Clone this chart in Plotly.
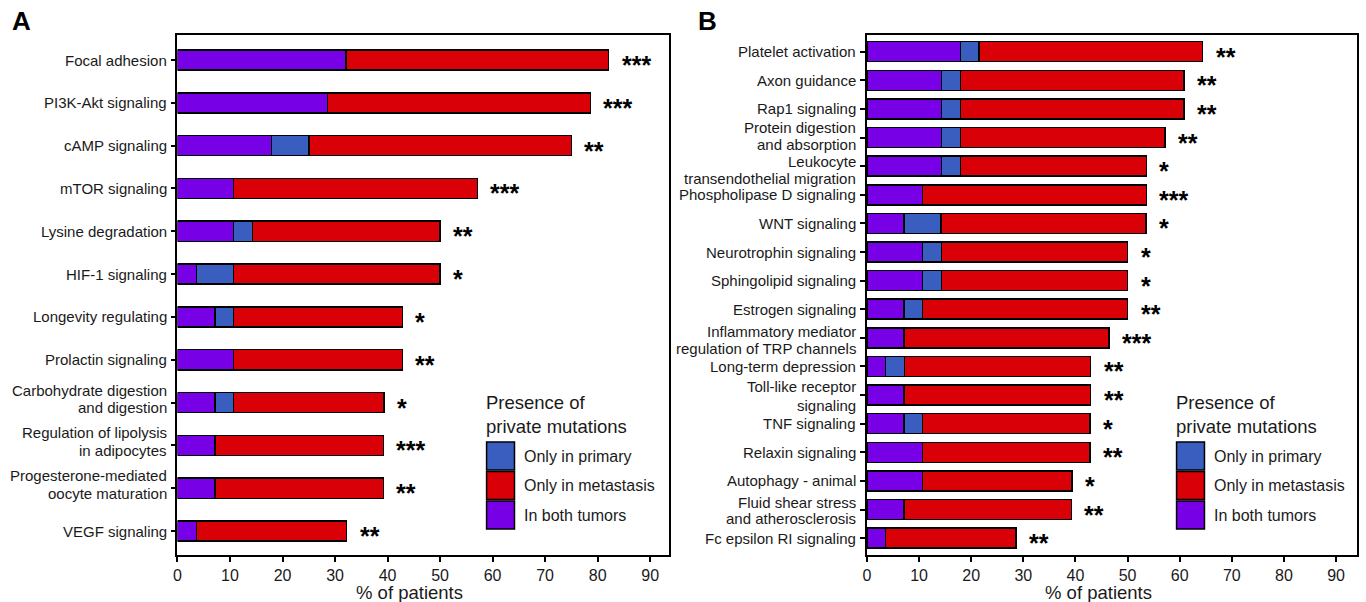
import plotly.graph_objects as go

# ---------------- Data ----------------
# Panel A (percent of patients)
cats_a = ["Focal adhesion", "PI3K-Akt signaling", "cAMP signaling", "mTOR signaling",
          "Lysine degradation", "HIF-1 signaling", "Longevity regulating", "Prolactin signaling",
          "Carbohydrate digestion<br>and digestion", "Regulation of lipolysis<br>in adipocytes",
          "Progesterone-mediated<br>oocyte maturation", "VEGF signaling"]
both_a = [32.1, 28.6, 17.9, 10.7, 10.7, 3.6, 7.1, 10.7, 7.1, 7.1, 7.1, 3.6]
primary_a = [0, 0, 7.1, 0, 3.6, 7.1, 3.6, 0, 3.6, 0, 0, 0]
meta_a = [50.0, 50.0, 50.0, 46.4, 35.7, 39.3, 32.1, 32.1, 28.6, 32.1, 32.1, 28.6]
sig_a = ["***", "***", "**", "***", "**", "*", "*", "**", "*", "***", "**", "**"]

# Panel B
cats_b = ["Platelet activation", "Axon guidance", "Rap1 signaling",
          "Protein digestion<br>and absorption", "Leukocyte<br>transendothelial migration",
          "Phospholipase D signaling", "WNT signaling", "Neurotrophin signaling",
          "Sphingolipid signaling", "Estrogen signaling",
          "Inflammatory mediator<br>regulation of TRP channels", "Long-term depression",
          "Toll-like receptor<br>signaling", "TNF signaling", "Relaxin signaling",
          "Autophagy - animal", "Fluid shear stress<br>and atherosclerosis",
          "Fc epsilon RI signaling"]
both_b = [17.9, 14.3, 14.3, 14.3, 14.3, 10.7, 7.1, 10.7, 10.7, 7.1, 7.1, 3.6, 7.1, 7.1, 10.7, 10.7, 7.1, 3.6]
primary_b = [3.6, 3.6, 3.6, 3.6, 3.6, 0, 7.1, 3.6, 3.6, 3.6, 0, 3.6, 0, 3.6, 0, 0, 0, 0]
meta_b = [42.9, 42.9, 42.9, 39.3, 35.7, 42.9, 39.3, 35.7, 35.7, 39.3, 39.3, 35.7, 35.8, 32.1, 32.1, 28.6, 32.1, 25.0]
sig_b = ["**", "**", "**", "**", "*", "***", "*", "*", "*", "**", "***", "**", "**", "*", "**", "*", "**", "**"]

x_ticks = [0, 10, 20, 30, 40, 50, 60, 70, 80, 90]
legend_labels = ["Only in primary", "Only in metastasis", "In both tumors"]
legend_title = "Presence of<br>private mutations"

# ---------------- Style ----------------
W, H = 1366, 602
C_BOTH = "#7800E6"
C_PRIM = "#3A5EC0"
C_META = "#D90008"
FONT = "Liberation Sans, Arial, Helvetica, sans-serif"
TXT = "#1a1a1a"

# vertical pixel offsets of the two lines of wrapped category labels
LINE_OFFSETS_A = (-12.5, 5.0)
LINE_OFFSETS_B = {
    "Protein digestion<br>and absorption": (-10.4, 6.6),
    "Leukocyte<br>transendothelial migration": (-5.0, 12.0),
    "Inflammatory mediator<br>regulation of TRP channels": (-6.6, 11.0),
    "Toll-like receptor<br>signaling": (-8.4, 10.0),
    "Fluid shear stress<br>and atherosclerosis": (-7.0, 9.0),
}


def px(x):
    return x / W


def py(y):
    return 1 - y / H


def nz(v):
    return [val if val else None for val in v]


fig = go.Figure()

panels = [
    dict(cats=cats_a, both=both_a, prim=primary_a, meta=meta_a, sig=sig_a,
         xa="x", ya="y", width=0.47, left=174, offs=lambda c: LINE_OFFSETS_A),
    dict(cats=cats_b, both=both_b, prim=primary_b, meta=meta_b, sig=sig_b,
         xa="x2", ya="y2", width=0.70, left=865.5,
         offs=lambda c: LINE_OFFSETS_B.get(c, (-7.5, 10.0))),
]

for p in panels:
    for vals, col, name in [(p["both"], C_BOTH, legend_labels[2]),
                            (p["prim"], C_PRIM, legend_labels[0]),
                            (p["meta"], C_META, legend_labels[1])]:
        fig.add_trace(go.Bar(
            y=p["cats"], x=nz(vals), orientation="h", name=name,
            marker=dict(color=col, line=dict(color="black", width=1.5)),
            width=p["width"], xaxis=p["xa"], yaxis=p["ya"], showlegend=False,
        ))
    for c, b, pr, m, s in zip(p["cats"], p["both"], p["prim"], p["meta"], p["sig"]):
        fig.add_annotation(
            x=b + pr + m, y=c, xref=p["xa"], yref=p["ya"], text=s, showarrow=False,
            xanchor="left", yanchor="middle", xshift=11, yshift=-5,
            font=dict(family=FONT, size=25, color="black", weight="bold"),
        )
        # category labels (one annotation per line, tight line spacing)
        lines = c.split("<br>")
        shifts = [0] if len(lines) == 1 else list(p["offs"](c))
        for ln, sh in zip(lines, shifts):
            fig.add_annotation(
                x=px(p["left"] - 9), y=c, xref="paper", yref=p["ya"], text=ln,
                showarrow=False, xanchor="right", yanchor="middle", yshift=-sh,
                font=dict(family=FONT, size=15, color=TXT),
            )

axis_common = dict(
    showline=True, linecolor="black", linewidth=1.5, mirror=True,
    ticks="outside", ticklen=5, tickwidth=1.5, tickcolor="black",
    showgrid=False, zeroline=False,
)

ydom = [py(555), py(35)]
fig.update_layout(
    width=W, height=H, margin=dict(l=0, r=0, t=0, b=0),
    paper_bgcolor="white", plot_bgcolor="white",
    barmode="stack", bargap=0.5,
    font=dict(family=FONT, color=TXT),
    xaxis=dict(domain=[px(174), px(667)], range=[0, (667 - 174) / 5.267],
               tickvals=x_ticks, tickfont=dict(size=16, color=TXT), anchor="y", **axis_common),
    yaxis=dict(domain=ydom, type="category", categoryorder="array", categoryarray=cats_a,
               range=[len(cats_a) - 1 + 0.56, -0.584], showticklabels=False,
               anchor="x", **axis_common),
    xaxis2=dict(domain=[px(865.5), px(1357)], range=[0, (1357 - 865.5) / 5.228],
                tickvals=x_ticks, tickfont=dict(size=16, color=TXT), anchor="y2", **axis_common),
    yaxis2=dict(domain=ydom, type="category", categoryorder="array", categoryarray=cats_b,
                range=[len(cats_b) - 1 + 0.59, -0.584], showticklabels=False,
                anchor="x2", **axis_common),
)

# Axis titles and panel letters
for cx, lab_x, letter in [(407, 18, "A"), (1098, 706, "B")]:
    fig.add_annotation(x=px(cx), y=py(592), xref="paper", yref="paper", text="% of patients",
                       showarrow=False, xanchor="center", yanchor="middle",
                       font=dict(family=FONT, size=18.5, color=TXT))
    fig.add_annotation(x=px(lab_x), y=py(21), xref="paper", yref="paper", text=letter,
                       showarrow=False, xanchor="center", yanchor="middle",
                       font=dict(family=FONT, size=26, color="black", weight="bold"))

# Manual legends
for lx in [483, 1175]:
    fig.add_annotation(x=px(lx - 2), y=py(414), xref="paper", yref="paper", text=legend_title,
                       showarrow=False, xanchor="left", yanchor="middle", align="left",
                       font=dict(family=FONT, size=18.5, color=TXT))
    for i, (lab, col) in enumerate(zip(legend_labels, [C_PRIM, C_META, C_BOTH])):
        y0 = 442 + i * 29.5
        fig.add_shape(type="rect", xref="paper", yref="paper",
                      x0=px(lx + 1), x1=px(lx + 29), y0=py(y0 + 28), y1=py(y0),
                      fillcolor=col, line=dict(color="black", width=1.5))
        fig.add_annotation(x=px(lx + 37), y=py(y0 + 14), xref="paper", yref="paper", text=lab,
                           showarrow=False, xanchor="left", yanchor="middle",
                           font=dict(family=FONT, size=16, color=TXT))

fig.write_html(
    "out.html",
    config={"displayModeBar": False},
    post_script="document.body.style.margin='0';document.body.style.padding='0';"
                "document.body.style.overflow='hidden';",
)
